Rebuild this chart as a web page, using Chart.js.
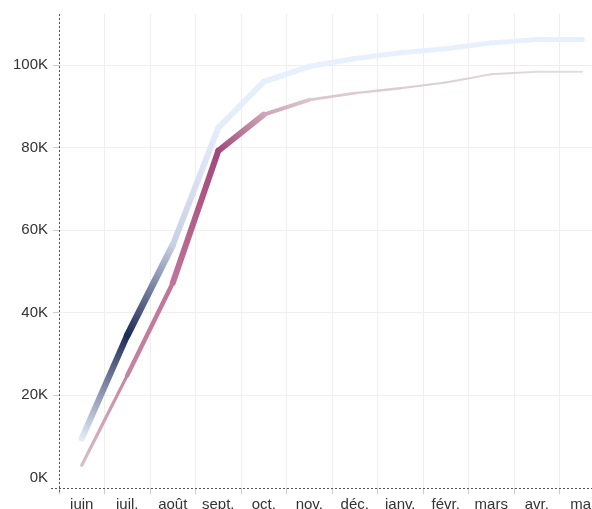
<!DOCTYPE html>
<html>
<head>
<meta charset="utf-8">
<script src="https://cdn.jsdelivr.net/npm/chart.js@4"></script>
<style>
  html, body { margin: 0; padding: 0; overflow: hidden; background: #fff; }
  #wrap { width: 605px; height: 520px; }
</style>
</head>
<body>
<div id="wrap"><canvas id="chart" width="605" height="520"></canvas></div>
<script>
const months = ['juin', 'juil.', 'août', 'sept.', 'oct.', 'nov.', 'déc.', 'janv.', 'févr.', 'mars', 'avr.', 'mai'];
const yTicks = [0, 20000, 40000, 60000, 80000, 100000];

const blueValues = [9500, 34500, 56400, 84800, 96000, 99700, 101600, 103000, 104000, 105400, 106200, 106200];
const mauveValues = [3000, 24800, 47200, 79200, 88000, 91600, 93200, 94400, 95800, 97800, 98400, 98400];

const blueColors = ['#e3e9f7', '#1f2b58', '#c8d0e4', '#e5edfc', '#e7eefd', '#e8effd', '#e8effd', '#e8effd', '#e8effd', '#e8effd', '#e8effd', '#e8effd'];
const blueWidths = [5, 7.5, 6, 6, 6, 5.5, 5, 5, 5, 5, 5, 5];
const mauveColors = ['#d9bfcb', '#c7849f', '#c07498', '#a3487a', '#cfa4b6', '#dcc6cf', '#ddcad2', '#dccbd2', '#ddd0d5', '#dfd4d8', '#e2d9dc', '#e4dcdf'];
const mauveWidths = [2.5, 4, 5, 7, 5, 3, 2.5, 2.2, 2, 2, 1.8, 1.8];

// gradient along each segment, from one point's colour to the next
function segColor(colors) {
    return ctx => {
        const c = ctx.chart.ctx;
        const g = c.createLinearGradient(ctx.p0.x, ctx.p0.y, ctx.p1.x, ctx.p1.y);
        g.addColorStop(0, colors[ctx.p0DataIndex]);
        g.addColorStop(1, colors[ctx.p1DataIndex]);
        return g;
    };
}
function segWidth(widths) {
    return ctx => (widths[ctx.p0DataIndex] + widths[ctx.p1DataIndex]) / 2;
}

function series(data, colors, widths) {
    return {
        data,
        borderColor: colors[0],
        borderWidth: widths[0],
        borderCapStyle: 'round',
        borderJoinStyle: 'round',
        pointRadius: 0,
        tension: 0,
        segment: { borderColor: segColor(colors), borderWidth: segWidth(widths) }
    };
}

// dotted axis lines (Chart.js only draws solid borders)
const dottedAxes = {
    id: 'dottedAxes',
    beforeDatasetsDraw(chart) {
        const { ctx, chartArea: a } = chart;
        ctx.save();
        ctx.strokeStyle = '#555';
        ctx.lineWidth = 1;
        ctx.setLineDash([2, 2]);
        ctx.beginPath();
        ctx.moveTo(a.left + 0.5, a.top);
        ctx.lineTo(a.left + 0.5, a.bottom + 4);
        ctx.moveTo(a.left - 8, a.bottom + 0.5);
        ctx.lineTo(a.right, a.bottom + 0.5);
        ctx.stroke();
        ctx.restore();
    }
};

new Chart(document.getElementById('chart'), {
    type: 'line',
    data: {
        labels: months,
        datasets: [
            series(blueValues, blueColors, blueWidths),
            series(mauveValues, mauveColors, mauveWidths)
        ]
    },
    plugins: [dottedAxes],
    options: {
        responsive: false,
        animation: false,
        layout: { padding: { top: 9, right: 0, left: 0, bottom: 0 } },
        plugins: { legend: { display: false }, tooltip: { enabled: false } },
        scales: {
            x: {
                offset: true,
                grid: { offset: true, color: '#eeeeee', tickColor: '#cccccc', tickLength: 6 },
                border: { display: false },
                ticks: { color: '#333', padding: 2, maxRotation: 0, autoSkip: false,
                         font: { family: "'Liberation Sans', Arial, sans-serif", size: 15 } },
                afterFit: s => { s.height = 32; }
            },
            y: {
                min: -2500,
                max: 112400,
                afterBuildTicks: s => { s.ticks = yTicks.map(v => ({ value: v })); },
                grid: {
                    color: c => c.tick && c.tick.value === 0 ? 'rgba(0,0,0,0)' : '#eeeeee',
                    tickColor: c => c.tick && c.tick.value === 0 ? 'rgba(0,0,0,0)' : '#cccccc',
                    tickLength: 6
                },
                border: { display: false },
                ticks: {
                    color: '#333', padding: 5,
                    font: { family: "'Liberation Sans', Arial, sans-serif", size: 15 },
                    callback: v => (v / 1000) + 'K'
                },
                afterFit: s => { s.width = 59; }
            }
        }
    }
});
</script>
</body>
</html>
